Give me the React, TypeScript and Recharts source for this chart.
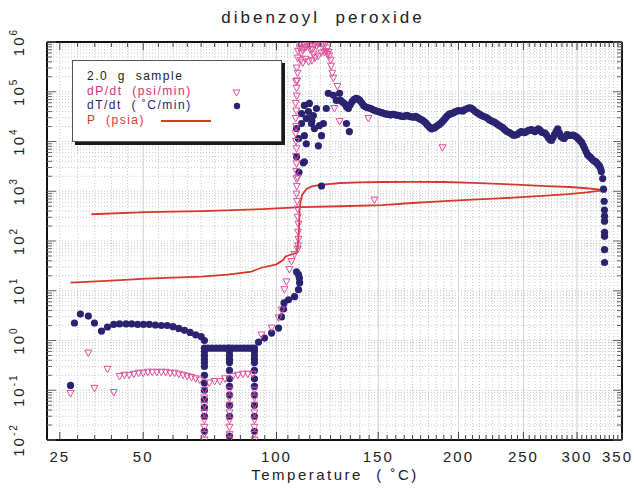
import React from 'react';
import { ComposedChart, Line, Scatter, XAxis, YAxis, CartesianGrid, ReferenceLine } from 'recharts';

// x axis is -1000/T(K), labelled in deg C
const toX = (t: number) => -1000 / (t + 273.15);
const fromX = (x: number) => -1000 / x - 273.15;

const xMajorTemps = [25, 50, 100, 150, 200, 250, 300, 350];
const xMinorTemps = Array.from({ length: 66 }, (_, i) => 25 + 5 * i);
const yDecades = [-2, -1, 0, 1, 2, 3, 4, 5, 6];

// P (psia), heating run
const pHeatT = [28, 40, 51, 60, 70, 80, 89.5, 93.6, 100, 103, 104, 108.9, 109.6, 110, 110.3, 110.8, 111.5, 113.5, 116, 120, 130, 140, 152, 170, 190, 210, 230, 248, 270, 292, 310, 329.5];
const pHeatV = [14.5, 16, 17.5, 18.3, 19.2, 21, 24.3, 29, 34, 42, 49, 58, 90, 172, 437, 640, 850, 1108, 1250, 1340, 1466, 1510, 1535, 1550, 1535, 1480, 1410, 1337, 1270, 1217, 1150, 1057];

// P (psia), cool down
const pCoolT = [34, 51, 70, 94, 111, 130, 152, 170, 190.5, 210, 230, 248.5, 270, 291.5, 310, 329.5];
const pCoolV = [345, 379, 397, 436, 479, 500, 526, 580, 634, 680, 720, 764, 820, 878, 950, 1057];

// dT/dt (C/min)
const dtT = [
  28.0, 29.1, 30.8, 33.1, 34.9, 37.0, 38.8, 40.7, 42.5, 44.5, 46.3, 48.2, 50.1, 52.0, 54.0, 56.0, 58.0, 60.0, 62.0, 64.0, 66.0, 68.0, 70.0,
  71.2, 71.2, 71.2, 71.2, 71.2, 71.2, 71.2, 71.2, 71.2, 71.2, 71.2, 71.2, 71.2, 71.2,
  72.5, 74, 75.5, 77, 78.5, 80, 82, 83.5, 85, 86.5, 88, 89.5,
  80.7, 80.7, 80.7, 80.7, 80.7, 80.7, 80.7, 80.7, 80.7, 80.7, 80.7, 80.7,
  90.7, 90.7, 90.7, 90.7, 90.7, 90.7, 90.7, 90.7, 90.7, 90.7, 90.7, 90.7,
  92.4, 94.9, 97.9, 100.9, 102.2, 103.1, 103.3, 105.3, 108.0, 109.8, 110.3, 110.2, 109.8, 108.9,
  108.9, 109.8, 112.5, 113.4, 112.5, 114.4, 114.8, 116.7, 118.2, 119.6, 120.6, 119.1, 121.5, 122.9, 123.9, 126.4, 127.9, 129.5,
  108.9, 112.5, 133.0, 134.5, 112.0, 120.6, 113.4, 115.8, 114.8, 117.2, 111.2, 111.2, 110.0, 116.0,
  130, 132, 134, 136, 138, 140, 142, 144, 146, 148, 150, 152, 154, 156, 158, 160, 162, 164, 166, 168, 170, 172, 174, 176, 178, 180,
  182, 184, 186, 188, 190, 192, 194, 196, 198, 200, 203, 206, 209, 212, 215, 218, 221, 224, 227, 230, 233, 236, 239, 242, 245, 248,
  251, 254, 257, 260, 263, 266, 269, 272, 275, 278, 281, 284, 287, 290, 293, 296, 299, 302, 305, 308, 311, 314, 317, 320, 322, 324,
  326, 327.5, 328.5, 329.2, 329.5, 329.6, 329.6, 329.6, 329.6, 329.6, 329.6,
  131, 133, 135, 137, 139, 141, 143, 145, 147, 149, 151, 153, 155, 157, 159, 161, 163, 165, 167, 169, 171, 173, 175, 177, 179, 181,
  183, 185, 187, 189, 191, 193, 195, 197, 199, 201.5, 204.5, 207.5, 210.5, 213.5, 216.5, 219.5, 222.5, 225.5, 228.5, 231.5, 234.5, 237.5,
  240.5, 243.5, 246.5, 249.5, 252.5, 255.5, 258.5, 261.5, 264.5, 267.5, 270.5, 273.5, 276.5, 279.5, 282.5, 285.5, 288.5, 291.5, 294.5,
  297.5, 300.5, 303.5, 306.5, 309.5, 312.5, 315.5, 318.5, 321, 323, 325,
];
const dtV = [
  0.125, 2.25, 3.4, 3.1, 2.25, 1.55, 1.87, 2.1, 2.15, 2.15, 2.15, 2.1, 2.1, 2.1, 2.05, 2.0, 2.0, 1.9, 1.75, 1.6, 1.45, 1.3, 1.2,
  1.0, 0.7, 0.6, 0.5, 0.42, 0.36, 0.3, 0.2, 0.14, 0.1, 0.065, 0.045, 0.03, 0.015,
  0.7, 0.7, 0.7, 0.7, 0.7, 0.7, 0.7, 0.7, 0.7, 0.7, 0.7, 0.7,
  0.7, 0.6, 0.5, 0.42, 0.36, 0.25, 0.17, 0.12, 0.08, 0.05, 0.03, 0.012,
  0.7, 0.6, 0.5, 0.42, 0.36, 0.25, 0.17, 0.12, 0.08, 0.05, 0.03, 0.015,
  0.93, 1.12, 1.41, 1.78, 2.98, 4.3, 5.7, 6.6, 7.6, 10.5, 14.5, 18, 21, 24,
  18150, 11400, 13100, 9020, 53100, 40100, 28900, 33300, 46100, 20900, 13100, 8200, 22900, 46100, 92900, 84600, 67000, 92900,
  4920, 3900, 22900, 15800, 3720, 1274, 28900, 22900, 58200, 18150, 36500, 22900, 2400, 26000,
  67000, 58000, 46000, 64000, 74000, 67000, 53000, 48000, 46000, 42000, 40000, 38000, 36000, 35000, 35000, 34000, 33000, 32000, 33000, 32000, 31000, 32000, 29000, 27000, 24000, 20500,
  18000, 19000, 21000, 23500, 27000, 32000, 36000, 37000, 40000, 42000, 41000, 46000, 47000, 40000, 35500, 32000, 29500, 26000, 24000, 21000, 19000, 16000, 14800, 13200, 14000, 15800,
  15000, 16500, 17400, 15800, 18000, 15500, 14800, 12000, 10500, 14000, 18000, 12600, 11500, 13800, 13200, 13500, 12600, 11000, 9500, 7200, 5400, 4800, 4200, 3900, 3500, 3200,
  2500, 1800, 1100, 630, 420, 316, 250, 150, 124, 67, 37,
  62000, 50000, 55000, 70000, 72000, 60000, 50000, 47000, 44000, 41000, 39000, 37000, 35500, 34000, 35000, 33500, 32500, 32000, 33000, 31500, 31000, 30500, 28000, 25500, 22000, 19000,
  18500, 20000, 22000, 25000, 29500, 34000, 36500, 38500, 41000, 41500, 44000, 47500, 44000, 37500, 33500, 31000, 27500, 25000, 22500, 20000, 17500, 15500,
  14000, 13500, 15000, 15500, 15800, 17000, 16500, 16800, 17000, 15000, 13500, 11000, 12000, 16000, 15000, 12000, 12500, 13500, 13300,
  13000, 11800, 10200, 8300, 6200, 5100, 4500, 4000, 3700, 3350, 2900,
];

// dP/dt (psi/min)
const dpT = [
  28.0, 33.1, 34.9, 38.8, 40.7,
  42.5, 44, 45.5, 47, 48.5, 50, 51.5, 53, 54.5, 56, 57.5, 59, 60.5, 62, 63.5, 65, 66.5, 68, 69.5,
  73, 75, 77, 79, 82, 84, 86, 88, 90,
  71.2, 71.2, 71.2, 71.2, 71.2, 71.2, 71.2, 71.2,
  80.7, 80.7, 80.7, 80.7, 80.7, 80.7, 80.7, 80.7,
  90.7, 90.7, 90.7, 90.7, 90.7, 90.7, 90.7, 90.7,
  93.6, 97.9, 100.9, 102.2, 103.5, 104.4, 105.7, 106.6, 108.0, 109.4, 109.8, 109.8, 109.4, 108.9, 108.9, 108.9, 108.9, 108.5, 108.5, 108.5, 108.9, 109.4, 109.4,
  110.3, 111.2, 112.5, 113.9, 115.3, 116.7, 118.2, 119.6, 121.0, 122.4, 123.4, 124.4, 125.3, 125.9, 126.4,
  110.8, 111.8, 113.0, 114.5, 116.0, 117.5, 119.0, 120.5, 122.0, 123.5, 109.0, 109.6, 108.7,
  128.4, 126.9, 129.5, 144.6, 109.4, 147.9, 189.1,
  109.6, 109.6, 109.4, 109.2, 109.0, 108.8, 108.7, 108.7, 108.7, 108.8, 109.0, 109.2,
  110.5, 111.5, 112.2, 113.2, 114.2, 115.0, 116.2, 117.0, 118.0, 119.2, 120.2, 121.2, 122.8, 124.0, 125.0,
];
const dpV = [
  0.086, 0.56, 0.109, 0.264, 0.09,
  0.19, 0.2, 0.2, 0.21, 0.22, 0.22, 0.23, 0.23, 0.23, 0.23, 0.23, 0.22, 0.22, 0.21, 0.2, 0.19, 0.18, 0.17, 0.16,
  0.14, 0.15, 0.15, 0.17, 0.19, 0.2, 0.21, 0.21, 0.21,
  0.1, 0.07, 0.05, 0.035, 0.025, 0.018, 0.013, 0.01,
  0.1, 0.07, 0.05, 0.035, 0.025, 0.018, 0.013, 0.01,
  0.1, 0.07, 0.05, 0.035, 0.025, 0.018, 0.013, 0.01,
  1.29, 1.78, 2.84, 4.1, 10.5, 15.1, 26.6, 38.6, 53.6, 67.6, 108, 217, 437, 878, 1770, 3560, 7150, 14400, 29000, 58200, 117000, 236000, 474000,
  757000, 598000, 757000, 869000, 689000, 571000, 830000, 955000, 955000, 911000, 757000, 521000, 327000, 236000, 187000,
  420000, 380000, 450000, 400000, 420000, 480000, 520000, 600000, 620000, 560000, 300000, 650000, 160000,
  128000, 46100, 25100, 29000, 1850, 664, 7480,
  80, 150, 300, 620, 1250, 2500, 5000, 10000, 20000, 41000, 82000, 165000,
  900000, 700000, 880000, 780000, 950000, 820000, 700000, 900000, 980000, 920000, 990000, 860000, 640000, 620000, 430000,
];

const mk = (ts: number[], vs: number[]) => ts.map((t, i) => ({ x: toX(t), y: vs[i] }));
const pHeat = mk(pHeatT, pHeatV);
const pCool = mk(pCoolT, pCoolV);
const dtData = mk(dtT, dtV);
const dpData = mk(dpT, dpV);

const xTicks = xMinorTemps.map(toX);
const yTicks: number[] = [];
yDecades.forEach((d) => {
  for (let m = 1; m <= 9; m++) {
    if (d === 6 && m > 1) break;
    yTicks.push(Number((m * Math.pow(10, d)).toPrecision(6)));
  }
});

const FONT = '"Liberation Sans", Arial, sans-serif';
const isDecade = (v: number) => Math.abs(Math.log10(v) - Math.round(Math.log10(v))) < 1e-6;

const BottomTick = (props: any) => {
  const { x, y, payload } = props;
  const t = Math.round(fromX(payload.value));
  const major = xMajorTemps.includes(t);
  const last = t === 350;
  return (
    <g>
      <line x1={x} x2={x} y1={y} y2={y - (major ? 8 : 5)} stroke="#444" strokeWidth={1} />
      {major && (
        <text
          x={last ? x + 11 : x}
          y={y + 22}
          textAnchor={last ? 'end' : 'middle'}
          fontFamily={FONT}
          fontSize={15}
          letterSpacing={2}
          fill="#222"
        >
          {t}
        </text>
      )}
    </g>
  );
};

const TopTick = (props: any) => {
  const { x, y, payload } = props;
  const t = Math.round(fromX(payload.value));
  const major = xMajorTemps.includes(t);
  return <line x1={x} x2={x} y1={y} y2={y + (major ? 8 : 5)} stroke="#444" strokeWidth={1} />;
};

const LeftTick = (props: any) => {
  const { x, y, payload } = props;
  const major = isDecade(payload.value);
  const exp = Math.round(Math.log10(payload.value));
  return (
    <g>
      <line x1={x} x2={x + (major ? 9 : 5)} y1={y} y2={y} stroke="#666" strokeWidth={1} />
      {major && (
        <g transform={`translate(${x - 23},${y}) rotate(-90)`}>
          <text x={0} y={0} textAnchor="middle" fontFamily={FONT} fontSize={15} letterSpacing={2} fill="#222">
            10<tspan dy={-7} fontSize={10}>{exp}</tspan>
          </text>
        </g>
      )}
    </g>
  );
};

const RightTick = (props: any) => {
  const { x, y, payload } = props;
  const major = isDecade(payload.value);
  return <line x1={x} x2={x - (major ? 9 : 5)} y1={y} y2={y} stroke="#666" strokeWidth={1} />;
};

const Circle = (p: any) => <circle cx={p.cx} cy={p.cy} r={3.6} fill="#2a2470" />;
const Tri = (p: any) => (
  <path
    d={`M${p.cx - 3.5},${p.cy - 3} L${p.cx + 3.5},${p.cy - 3} L${p.cx},${p.cy + 3.5} Z`}
    fill="none"
    stroke="#e0509a"
    strokeWidth={1}
  />
);

export default function App() {
  const txt = { fontFamily: FONT, letterSpacing: 2, whiteSpace: 'pre' as const };
  return (
    <div style={{ position: 'absolute', left: 0, top: 0, width: 634, height: 488, background: '#fff' }}>
      <ComposedChart width={634} height={488} margin={{ top: 40, right: 10, bottom: 18, left: 17 }}>
        <CartesianGrid stroke="#c9c9c9" strokeDasharray="1 2" />
        {xMajorTemps.slice(1, -1).map((t) => (
          <ReferenceLine key={'x' + t} x={toX(t)} stroke="#d6d6d6" strokeWidth={1} />
        ))}
        <XAxis
          dataKey="x"
          type="number"
          domain={[toX(21.5), toX(350)]}
          allowDataOverflow
          ticks={xTicks}
          interval={0}
          height={30}
          tickSize={0}
          tickMargin={0}
          tickLine={false}
          tick={BottomTick}
          axisLine={{ stroke: '#111', strokeWidth: 2 }}
        />
        <XAxis
          xAxisId="t"
          orientation="top"
          dataKey="x"
          type="number"
          domain={[toX(21.5), toX(350)]}
          allowDataOverflow
          ticks={xTicks}
          interval={0}
          height={2}
          tickSize={0}
          tickMargin={0}
          tickLine={false}
          tick={TopTick}
          axisLine={{ stroke: '#111', strokeWidth: 2 }}
        />
        <YAxis
          dataKey="y"
          type="number"
          scale="log"
          domain={[0.01, 1e6]}
          allowDataOverflow
          ticks={yTicks}
          interval={0}
          width={30}
          tickSize={0}
          tickMargin={0}
          tickLine={false}
          tick={LeftTick}
          axisLine={{ stroke: '#111', strokeWidth: 2 }}
        />
        <YAxis
          yAxisId="r"
          orientation="right"
          dataKey="y"
          type="number"
          scale="log"
          domain={[0.01, 1e6]}
          allowDataOverflow
          ticks={yTicks}
          interval={0}
          width={2}
          tickSize={0}
          tickMargin={0}
          tickLine={false}
          tick={RightTick}
          axisLine={{ stroke: '#111', strokeWidth: 2 }}
        />
        <Line data={pHeat} dataKey="y" type="linear" stroke="#d8382a" strokeWidth={1.8} dot={false} isAnimationActive={false} />
        <Line data={pCool} dataKey="y" type="linear" stroke="#d8382a" strokeWidth={1.8} dot={false} isAnimationActive={false} />
        <Scatter data={dtData} dataKey="y" shape={Circle} isAnimationActive={false} />
        <Scatter data={dpData} dataKey="y" shape={Tri} isAnimationActive={false} />
      </ComposedChart>

      <div style={{ ...txt, position: 'absolute', left: 0, width: 646, top: 8, textAlign: 'center', fontSize: 17, letterSpacing: 3, color: '#222' }}>
        dibenzoyl  peroxide
      </div>
      <div style={{ ...txt, position: 'absolute', left: 0, width: 670, top: 466, textAlign: 'center', fontSize: 15, letterSpacing: 2.5, color: '#222' }}>
        Temperature  ( ˚C)
      </div>

      <div
        style={{
          position: 'absolute',
          left: 72,
          top: 60,
          width: 208,
          height: 80,
          background: '#fff',
          border: '1px solid #555',
          boxShadow: '3px 3px 0 #1a1a1a',
        }}
      >
        <div style={{ ...txt, position: 'absolute', left: 14, top: 8, fontSize: 12, letterSpacing: 1.5, color: '#222' }}>2.0  g  sample</div>
        <div style={{ ...txt, position: 'absolute', left: 14, top: 23, fontSize: 12, letterSpacing: 1.5, color: '#d0307c' }}>dP/dt  (psi/min)</div>
        <div style={{ ...txt, position: 'absolute', left: 14, top: 37, fontSize: 12, letterSpacing: 1.5, color: '#2a2470' }}>dT/dt  ( ˚C/min)</div>
        <div style={{ ...txt, position: 'absolute', left: 14, top: 52, fontSize: 12, letterSpacing: 1.5, color: '#d8382a' }}>P  (psia)</div>
        <svg style={{ position: 'absolute', left: 0, top: 0 }} width={208} height={80}>
          <path d="M160,29 L167,29 L163.5,35 Z" fill="none" stroke="#e0509a" strokeWidth={1} />
          <circle cx={164} cy={45} r={3.2} fill="#2a2470" />
          <line x1={88} x2={138} y1={60} y2={60} stroke="#d8382a" strokeWidth={2} />
        </svg>
      </div>
    </div>
  );
}
